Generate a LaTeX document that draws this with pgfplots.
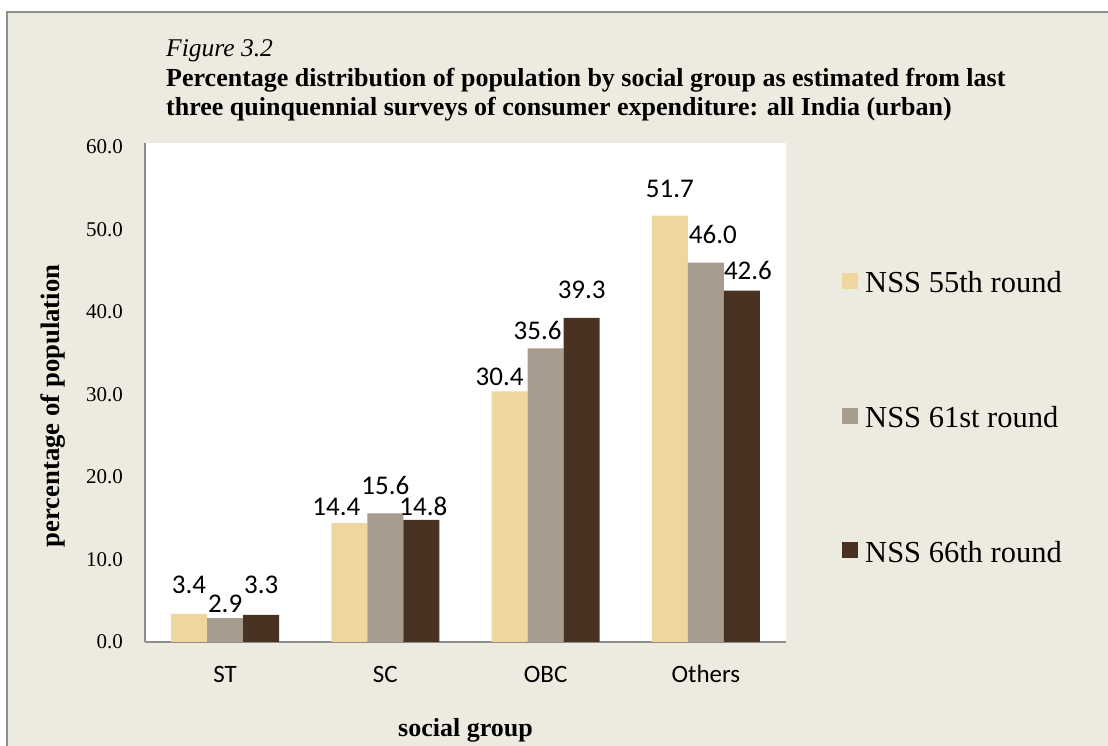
\documentclass[border=0pt]{standalone}
\usepackage{fontspec}
\setmainfont{Liberation Serif}
\newfontfamily\carlito{Carlito}
\usepackage{pgfplots}
\usepackage{pgfplotstable}
\pgfplotsset{compat=1.18}

\definecolor{bgbeige}{HTML}{EDEBE0}
\definecolor{framegray}{HTML}{8E8E8E}
\definecolor{axisgray}{HTML}{8C8C8C}
\definecolor{nssA}{HTML}{EFD69E}
\definecolor{nssB}{HTML}{A89C8F}
\definecolor{nssC}{HTML}{4A3222}

% x = group index, y = percent, xoff/gap = label offsets in pt
\pgfplotstableread{
x y xoff gap
0 3.4 0 20
1 14.4 -13 8
2 30.4 -10 6
3 51.7 0 18
}\tabA
\pgfplotstableread{
x y xoff gap
0 2.9 0 6
1 15.6 0 19
2 35.6 -8 9
3 46.0 7 19
}\tabB
\pgfplotstableread{
x y xoff gap
0 3.3 0 21
1 14.8 2 4
2 39.3 0 19
3 42.6 6 11
}\tabC

\pgfkeys{/pgf/number format/.cd, fixed, fixed zerofill, precision=1, assume math mode=true}

\pgfplotsset{
  lbl/.style={
    visualization depends on={\thisrow{xoff}\as\xoff},
    visualization depends on={\thisrow{gap}\as\gap},
    nodes near coords,
    every node near coord/.append style={anchor=base, inner sep=0pt,
      xshift=\xoff pt, yshift=\gap pt, text=black,
      font=\carlito\fontsize{27}{32}\selectfont},
  },
}

\begin{document}
\begin{tikzpicture}[x=1pt,y=1pt]
\path[use as bounding box, clip] (0,0) rectangle (1108,746);
\fill[white] (0,0) rectangle (1108,746);
\fill[bgbeige] (7,-10) rectangle (1120,734);
\draw[framegray, line width=1.5pt] (7,-10) -- (7,734) -- (1120,734);

\node[anchor=base west, inner sep=0pt, font=\itshape\fontsize{25.5}{29}\selectfont] at (166,689) {Figure 3.2};
\node[anchor=base west, inner sep=0pt, font=\bfseries\fontsize{26}{29}\selectfont] at (166,659.3)
  {Percentage distribution of population by social group as estimated from last};
\node[anchor=base west, inner sep=0pt, font=\bfseries\fontsize{26}{29}\selectfont] at (166,630.3)
  {three quinquennial surveys of consumer expenditure: all India (urban)};

\begin{axis}[
  at={(145pt,104pt)}, anchor=south west,
  scale only axis, width=641pt, height=499pt,
  xmin=-0.5, xmax=3.5, ymin=0, ymax=60.5,
  axis lines*=left,
  axis line style={draw=axisgray, line width=2pt, -},
  axis background/.style={fill=white},
  major tick length=0pt,
  xtick={0,1,2,3},
  xticklabels={ST,SC,OBC,Others},
  xticklabel style={anchor=base, inner sep=0pt, yshift=-41pt,
    font=\carlito\fontsize{25}{30}\selectfont},
  ytick={0,10,20,30,40,50,60},
  yticklabel style={anchor=east, inner sep=0pt, xshift=-22pt,
    font=\fontsize{21}{25}\selectfont},
  xlabel={social group},
  xlabel style={at={(axis description cs:0.5,-0.19)}, anchor=base,
    font=\bfseries\fontsize{26}{31}\selectfont},
  ylabel={percentage of population},
  ylabel style={at={(axis description cs:-0.1435,0.473)}, anchor=center,
    font=\bfseries\fontsize{26.7}{31}\selectfont},
  ybar, bar width=0.225,
  legend style={at={(axis description cs:1.0874,0.7425)}, anchor=north west,
    draw=none, fill=none, inner sep=0pt, row sep=112pt, column sep=7pt,
    nodes={inner sep=0pt},
    font=\fontsize{30.5}{36}\selectfont},
  legend cell align=left,
  legend image code/.code={\fill[#1, draw=none] (0pt,-6pt) rectangle (16pt,10pt);},
]
\addplot[fill=nssA, draw=none, bar shift=-0.225, lbl] table[x=x,y=y] {\tabA};
\addplot[fill=nssB, draw=none, bar shift=0, lbl] table[x=x,y=y] {\tabB};
\addplot[fill=nssC, draw=none, bar shift=0.225, lbl] table[x=x,y=y] {\tabC};
\legend{NSS 55th round, NSS 61st round, NSS 66th round}
\end{axis}
\end{tikzpicture}
\end{document}
